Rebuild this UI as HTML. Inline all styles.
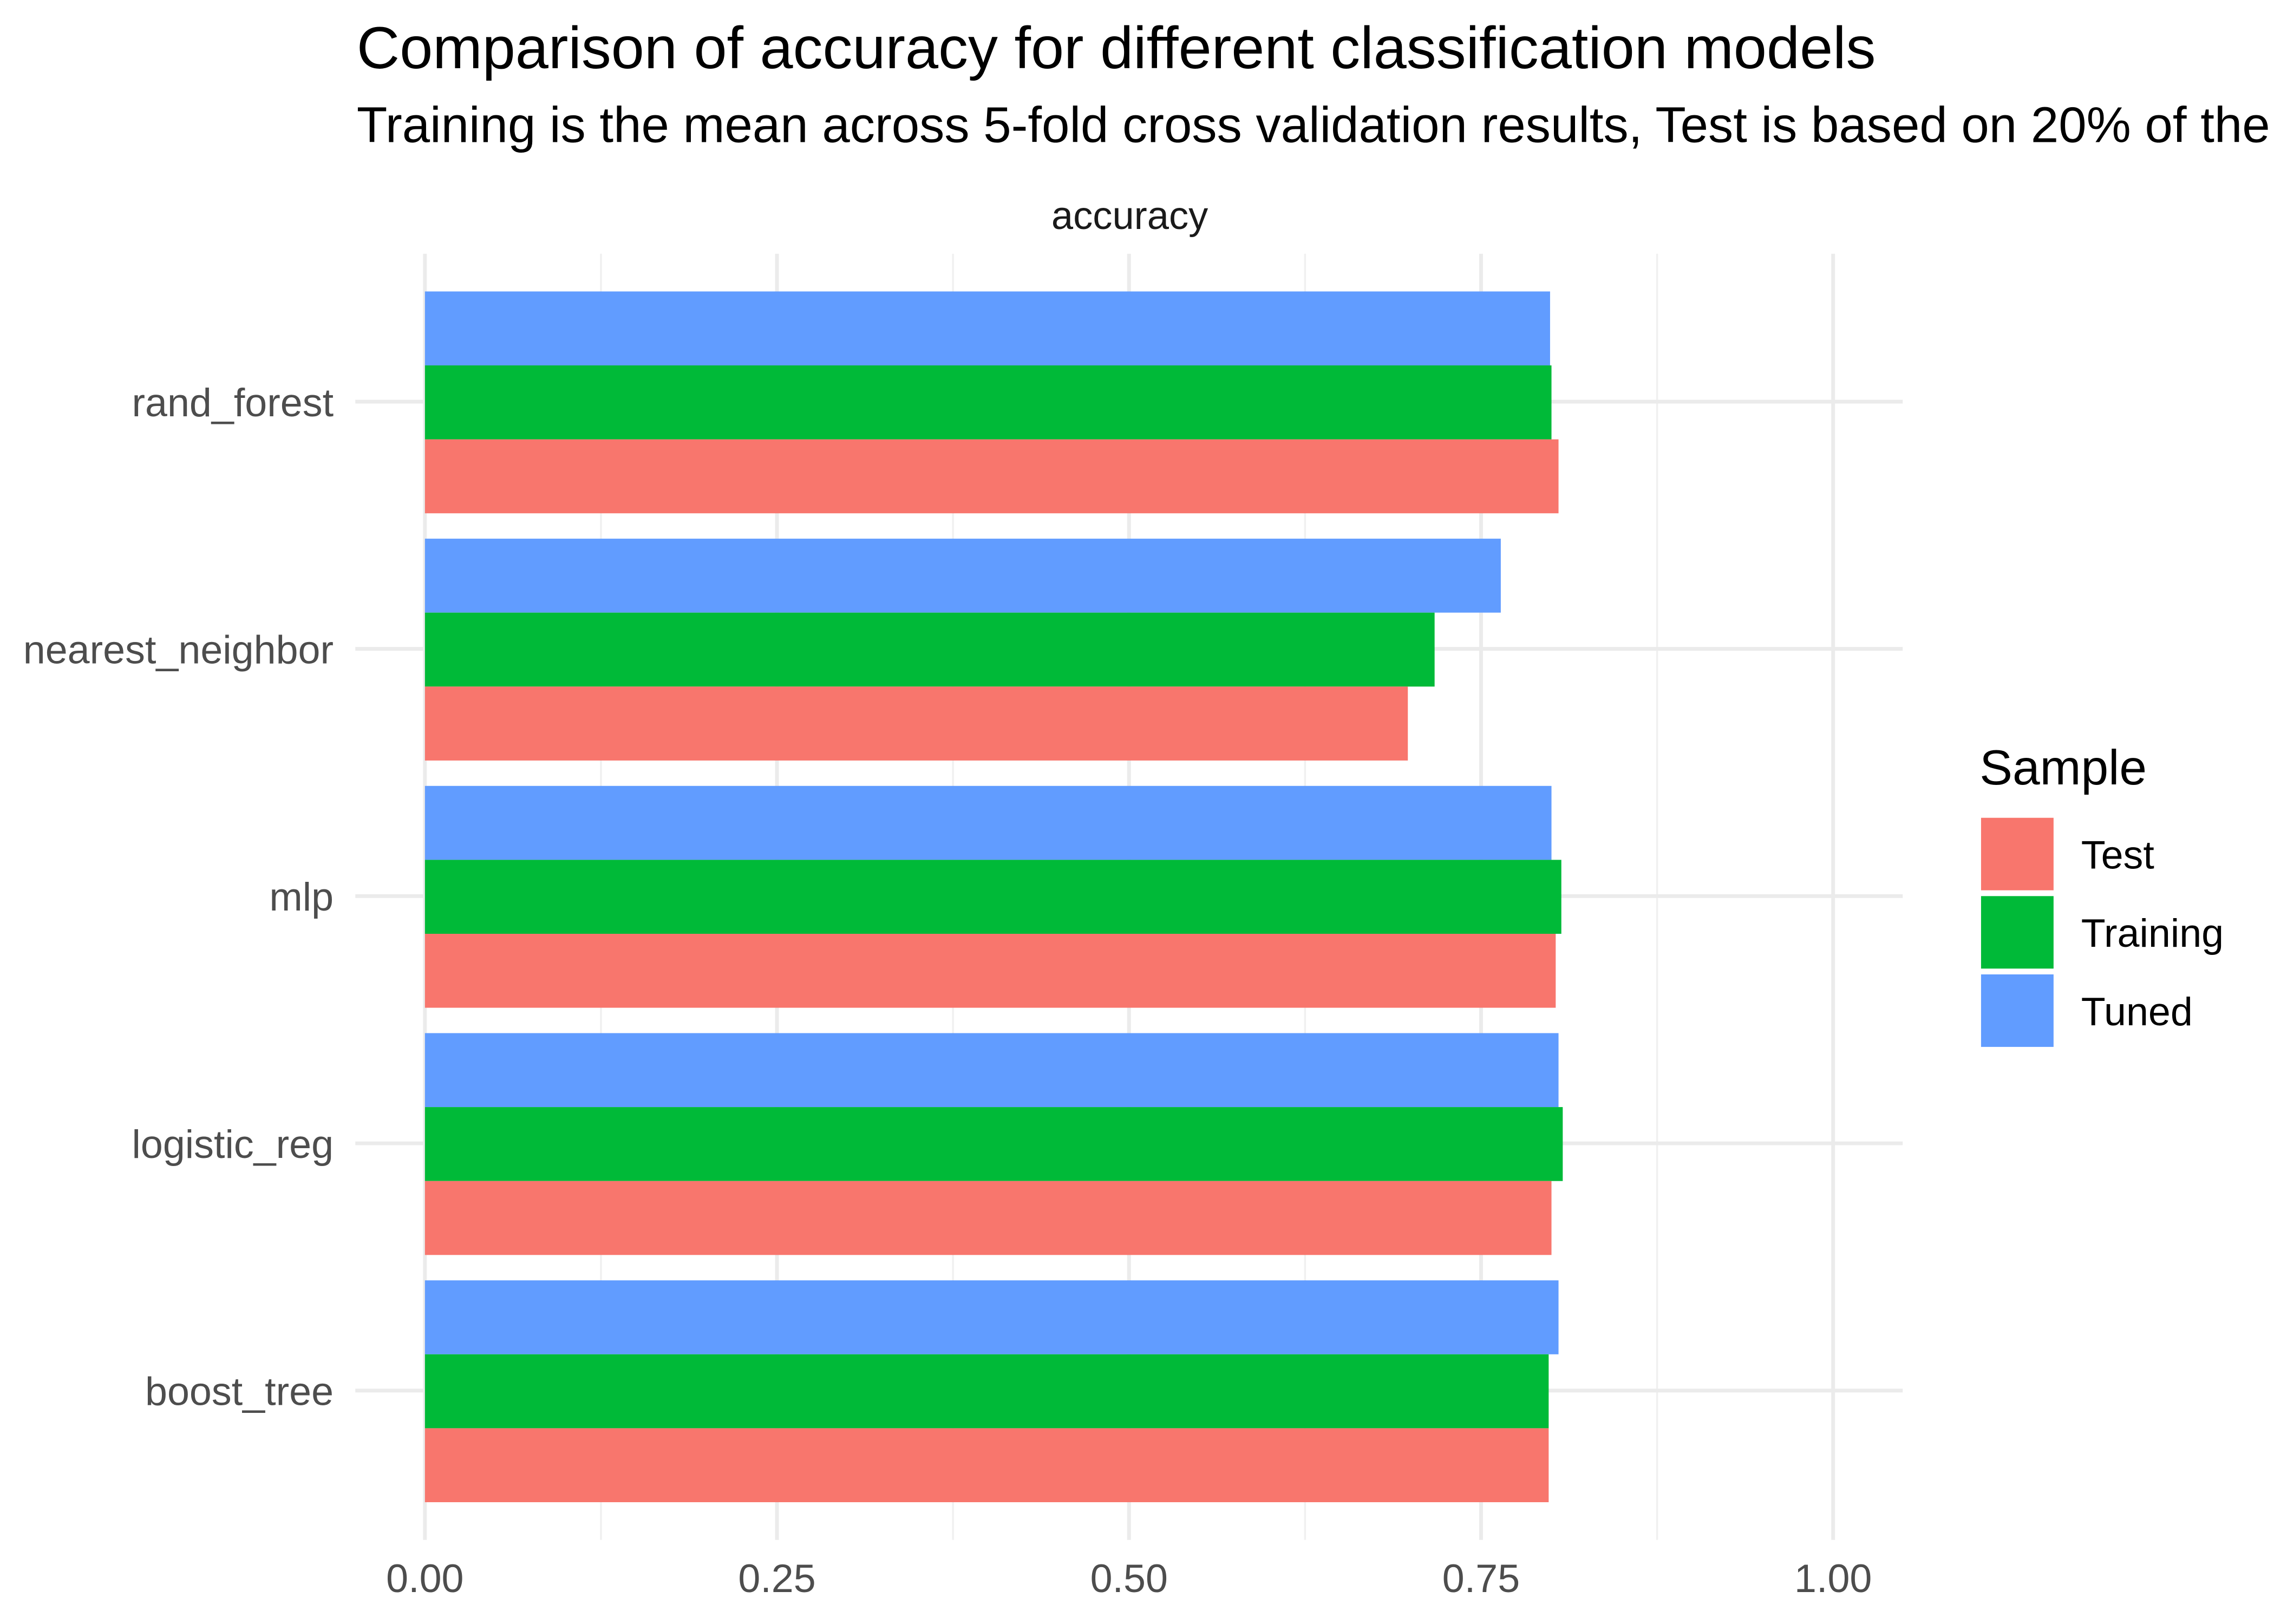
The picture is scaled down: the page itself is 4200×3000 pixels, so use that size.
<!DOCTYPE html>
<html><head><meta charset="utf-8"><style>html,body{margin:0;padding:0;background:#fff}svg{display:block}text{font-family:"Liberation Sans",Arial,sans-serif}</style></head>
<body>
<svg id="chart" width="4200" height="3000" viewBox="0 0 1568 1120" xmlns="http://www.w3.org/2000/svg">
<rect width="1568" height="1120" fill="#fff"/>
<text x="246" y="47" font-size="41" fill="#000">Comparison of accuracy for different classification models</text>
<text x="246" y="98" font-size="34.5" fill="#000">Training is the mean across 5-fold cross validation results, Test is based on 20% of the initial data split</text>
<text x="779" y="158" font-size="27" text-anchor="middle" fill="#1a1a1a">accuracy</text>
<g id="grid"></g><g id="bars"></g><g id="axes"></g>
<g>
<text x="1365" y="541" font-size="34" fill="#000">Sample</text>
<g id="legend"></g>
</g>
</svg>
<script>
const categories = ["rand_forest","nearest_neighbor","mlp","logistic_reg","boost_tree"];
const series = ["Test","Training","Tuned"];
const testValues = [0.805,0.698,0.803,0.800,0.798];
const trainingValues = [0.800,0.717,0.807,0.808,0.798];
const tunedValues = [0.799,0.764,0.800,0.805,0.805];
const xTicks = [0,0.25,0.5,0.75,1.0];
const xTickLabels = ["0.00","0.25","0.50","0.75","1.00"];
const colors = {Test:"#F8766D",Training:"#00BA38",Tuned:"#619CFF"};
const NS="http://www.w3.org/2000/svg";
const x = v => 293 + v*971;
const y = i => 277 + i*170.5;
function mk(tag, attrs, parent){const e=document.createElementNS(NS,tag);for(const k in attrs)e.setAttribute(k,attrs[k]);parent.appendChild(e);return e;}
const grid=document.getElementById('grid'), bars=document.getElementById('bars'), axes=document.getElementById('axes'), legend=document.getElementById('legend');
for(let i=0;i<xTicks.length-1;i++){const m=(xTicks[i]+xTicks[i+1])/2;
 const l=mk('line',{x1:x(m),x2:x(m),y1:175,y2:1062,stroke:'#f0f0f0','stroke-width':1.3},grid);
 
 }
xTicks.forEach((t,i)=>{const l=mk('line',{x1:x(t),x2:x(t),y1:175,y2:1062,stroke:'#ebebeb','stroke-width':2.6},grid);
 
 
 const tx=mk('text',{x:x(t),y:1098,'font-size':27.5,'text-anchor':'middle',fill:'#4d4d4d'},axes);tx.textContent=xTickLabels[i];
 
 });
categories.forEach((c,i)=>{const l=mk('line',{x1:245,x2:1312,y1:y(i),y2:y(i),stroke:'#ebebeb','stroke-width':2.6},grid);
 
 
 const tx=mk('text',{x:230,y:y(i)+10,'font-size':27.5,'text-anchor':'end',fill:'#4d4d4d'},axes);tx.textContent=c;
 
 
 const vals=[tunedValues[i],trainingValues[i],testValues[i]];const names=["Tuned","Training","Test"];
 vals.forEach((v,j)=>{const r=mk('rect',{x:x(0),y:y(i)-76+j*51,width:x(v)-x(0),height:51,fill:colors[names[j]]},bars);
  
  });});
series.forEach((s,i)=>{const r=mk('rect',{x:1366,y:564+i*54,width:50,height:50,fill:colors[s]},legend);
 
 
 const t=mk('text',{x:1435,y:599+i*54,'font-size':27.5,fill:'#000'},legend);t.textContent=s;
 
 });
</script>
</body></html>
